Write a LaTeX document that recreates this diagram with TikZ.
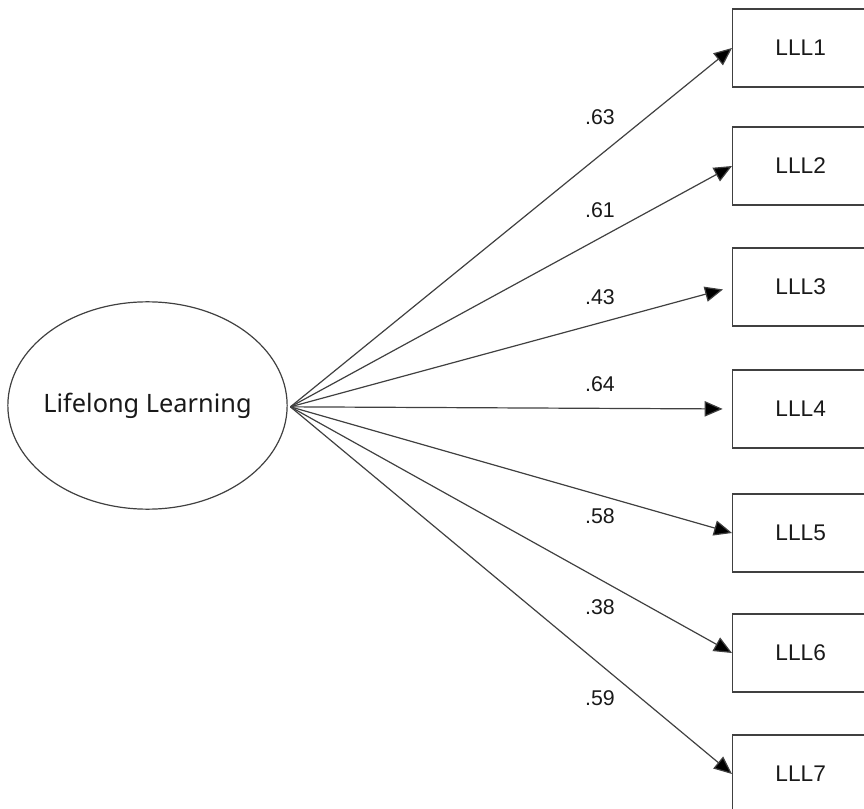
\documentclass[tikz,border=0pt]{standalone}
\usepackage{fontspec}
\setmainfont{Liberation Sans}
\newfontfamily\latentfont{Noto Sans}
\usetikzlibrary{shapes.geometric,arrows.meta}

\begin{document}
\begin{tikzpicture}[x=0.75pt,y=-0.75pt,
	indicator/.style={draw=black!75,line width=1pt,minimum width=102pt,
		minimum height=58.5pt,anchor=west,text=black!90,
		font=\fontsize{17}{19}\selectfont},
	coef/.style={text=black!90,font=\fontsize{16}{18}\selectfont},
	load/.style={draw=black!75,line width=0.9pt,
		-{Triangle[length=13.5pt,width=11.5pt,fill=black]}}]
	\useasboundingbox (0,0) rectangle (864,809);
	
	\node[ellipse,draw=black!75,line width=0.9pt,inner xsep=-4pt,inner ysep=0pt,
		minimum width=207.5pt,minimum height=155.5pt,text=black!90,
		font=\latentfont\fontsize{19}{22}\selectfont] (LL) at (147.5,405.5) {Lifelong Learning};
	\coordinate (hub) at ([xshift=2pt,yshift=-1pt]LL.east);
	
	\node[indicator] (L1) at (732,48) {LLL1};
	\node[indicator] (L2) at (732,166) {LLL2};
	\node[indicator] (L3) at (732,287) {LLL3};
	\node[indicator] (L4) at (732,409) {LLL4};
	\node[indicator] (L5) at (732,533) {LLL5};
	\node[indicator] (L6) at (732,653) {LLL6};
	\node[indicator] (L7) at (732,774) {LLL7};
	
	\draw[load] (hub) -- (L1.west);
	\draw[load] (hub) -- (L2.west);
	\draw[load,shorten >=7pt] (hub) -- (L3.west);
	\draw[load,shorten >=7pt] (hub) -- (L4.west);
	\draw[load] (hub) -- (L5.west);
	\draw[load] (hub) -- (L6.west);
	\draw[load] (hub) -- (L7.west);
	
	\node[coef] (c1) at (600,117) {.63};
	\node[coef] (c2) at (600,210) {.61};
	\node[coef] (c3) at (600,297) {.43};
	\node[coef] (c4) at (600,384) {.64};
	\node[coef] (c5) at (600,516) {.58};
	\node[coef] (c6) at (600,607) {.38};
	\node[coef] (c7) at (600,698) {.59};
\end{tikzpicture}
\end{document}
